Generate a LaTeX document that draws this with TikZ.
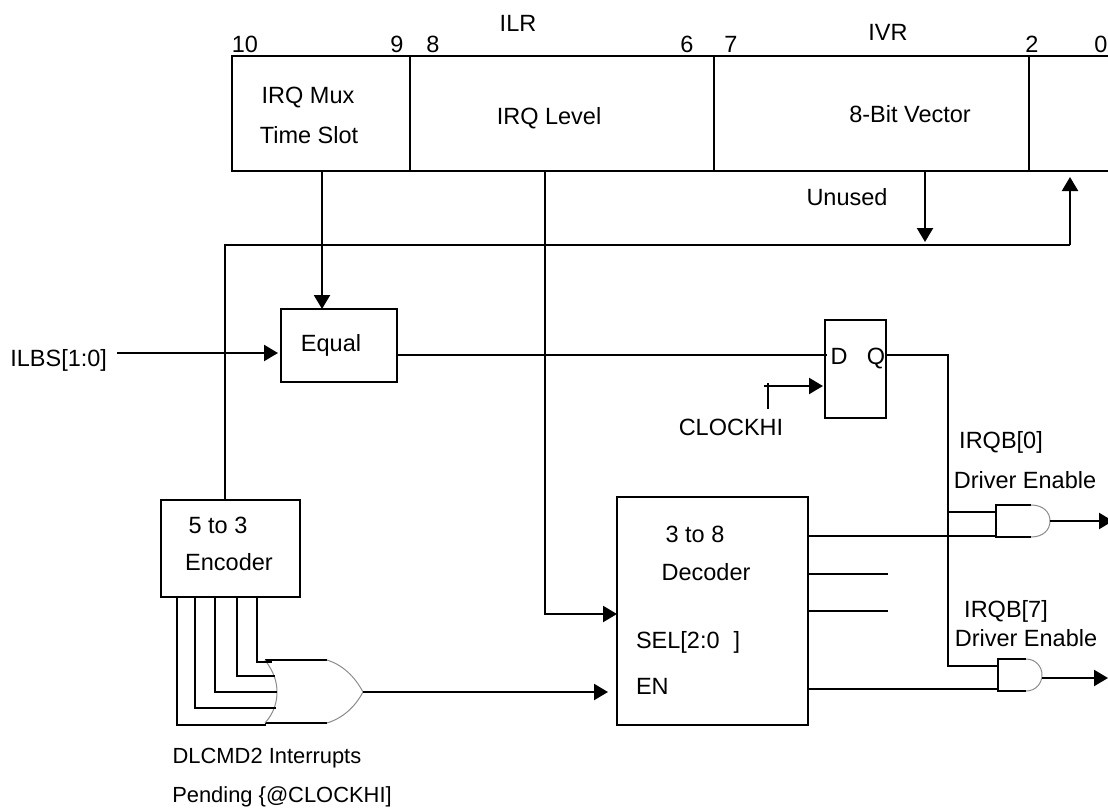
\documentclass[tikz,border=0pt]{standalone}
\usepackage{fontspec}
\setmainfont{Liberation Sans}
\usetikzlibrary{arrows.meta}
\tikzset{
  x=1pt,y=-1pt,
  line/.style={draw=black,line width=2.2pt},
  thin line/.style={draw=black,line width=1.2pt},
  gate curve/.style={draw=black!45,line width=1pt},
  arr/.style={line,-{Triangle[length=14pt,width=16pt]}},
  box/.style={draw=black,line width=2.2pt,inner sep=0pt,outer sep=0pt,anchor=north west},
  hidden/.style={inner sep=0pt,outer sep=0pt,anchor=north west},
  lab/.style={inner sep=0pt,outer sep=0pt,text height=17pt,text depth=0pt,font=\fontsize{23.5}{26}\selectfont},
  small lab/.style={lab,font=\fontsize{21.9}{26}\selectfont},
}
\begin{document}
\begin{tikzpicture}
\useasboundingbox (0,0) rectangle (1108,808);
\clip (0,0) rectangle (1108,808);
\fill[white] (0,0) rectangle (1108,808);
% register
\node[box,minimum width=178pt,minimum height=115pt] (mux) at (232,56) {};
\node[box,minimum width=304pt,minimum height=115pt] (level) at (410,56) {};
\node[box,minimum width=315pt,minimum height=115pt] (vector) at (714,56) {};
\node[hidden,minimum width=79pt,minimum height=115pt] (unused) at (1029,56) {};
\draw[line] (vector.north east) -- (unused.north east);
\draw[line] (vector.south east) -- (unused.south east);
% blocks
\node[box,minimum width=116pt,minimum height=73pt] (equal) at (281,309) {};
\node[box,minimum width=61pt,minimum height=98pt] (ff) at (825,320) {};
\node[box,minimum width=139pt,minimum height=97pt] (enc) at (161,500) {};
\node[box,minimum width=191pt,minimum height=228pt] (dec) at (617,497) {};
% gates
\node[hidden,minimum width=98pt,minimum height=63pt] (orgate) at (265,660) {};
\node[hidden,minimum width=54pt,minimum height=32pt] (and0) at (996,505) {};
\node[hidden,minimum width=44pt,minimum height=32pt] (and7) at (998,659) {};
\draw[thin line] (1031,505) -- (996,505) -- (996,537) -- (1031,537);
\draw[gate curve] (1031,505) .. controls (1043,505) and (1050,512) .. (1050,521) .. controls (1050,530) and (1043,537) .. (1031,537);
\draw[thin line] (1026,659) -- (998,659) -- (998,691) -- (1026,691);
\draw[gate curve] (1026,659) .. controls (1036,659) and (1042,667) .. (1042,675) .. controls (1042,683) and (1036,691) .. (1026,691);
\draw[thin line] (265,660) -- (327,660);
\draw[thin line] (265,723) -- (327,723);
\draw[gate curve] (265,660) .. controls (274,672) and (277,682) .. (277,692) .. controls (277,702) and (274,713) .. (265,723);
\draw[gate curve] (327,660) .. controls (343,665) and (355,677) .. (363,692) .. controls (355,707) and (343,718) .. (327,723);
% labels
\node[lab] (t1) at (518,23) {ILR};
\node[lab] (t2) at (888,32) {IVR};
\node[lab] (b10) at (245,44) {10};
\node[lab] (b9) at (397,44) {9};
\node[lab] (b8) at (433,44) {8};
\node[lab] (b6) at (687,44) {6};
\node[lab] (b7) at (731,44) {7};
\node[lab] (b2) at (1032,44) {2};
\node[lab] (b0) at (1101,44) {0};
\node[lab] (t3) at (308,95) {IRQ Mux};
\node[lab] (t4) at (309,135) {Time Slot};
\node[lab] (t5) at (549,116) {IRQ Level};
\node[lab] (t6) at (910,114) {8-Bit Vector};
\node[lab] (t7) at (847,197) {Unused};
\node[lab,anchor=east] (ilbs) at (107,358) {ILBS[1:0]};
\node[lab] (t8) at (331,343) {Equal};
\node[lab] (d) at (839,356) {D};
\node[lab] (q) at (876,356) {Q};
\node[lab] (clk) at (731,427) {CLOCKHI};
\node[lab] (t9) at (1001,440) {IRQB[0]};
\node[lab] (t10) at (1025,480) {Driver Enable};
\node[lab] (t11) at (1006,609) {IRQB[7]};
\node[lab] (t12) at (1026,638) {Driver Enable};
\node[lab] (t13) at (218,525) {5 to 3};
\node[lab] (t14) at (229,562) {Encoder};
\node[lab] (t15) at (695,534) {3 to 8};
\node[lab] (t16) at (706,572) {Decoder};
\node[lab,anchor=west] (sel) at (636,640) {SEL[2:0\hspace{14pt}]};
\node[lab,anchor=west] (en) at (636,686) {EN};
\node[small lab] (t17) at (267,755) {DLCMD2 Interrupts};
\node[small lab] (t18) at (282,794) {Pending \{@CLOCKHI]};
% connectors
\coordinate (ilbsfoot) at (117,353);
\coordinate (clkfoot) at (768,409);
\coordinate (outa) at (888,574);
\coordinate (outb) at (888,611);
\coordinate (o0) at (1113,521);
\coordinate (o7) at (1108,678);
\draw[arr] (mux.south -| 322,0) -- (equal.north -| 322,0);
\draw[arr] (ilbsfoot) -- ([xshift=-3pt]equal.west |- 0,353);
\draw[arr] (level.south -| 545,0) |- (dec.west |- 0,614);
\draw[line] (enc.north -| 225,0) |- (1070,245);
\draw[arr] (1070,245) -- ([yshift=-6pt]unused.south -| 1070,0);
\draw[arr] (vector.south -| 925,0) -- (925,242);
\draw[line] (equal.east |- 0,355) -- ([xshift=2pt]ff.west |- 0,355);
\draw[line] (ff.east |- 0,355) -- (948,355) -- (948,666) -- (and7.west |- 0,666);
\draw[line] (948,512) -- (and0.west |- 0,512);
\draw[line] (clkfoot) -- (768,383);
\draw[arr] (764,386) -- ([xshift=-2pt]ff.west |- 0,386);
\draw[line] (dec.east |- 0,536) -- (and0.west |- 0,536);
\draw[line] (dec.east |- 0,574) -- (outa);
\draw[line] (dec.east |- 0,611) -- (outb);
\draw[line] (dec.east |- 0,689) -- (and7.west |- 0,689);
\draw[arr] (and0.east |- 0,521) -- (o0);
\draw[arr] (and7.east |- 0,678) -- (o7);
\draw[line] (enc.south -| 257,0) -- (257,662) -- (272,662);
\draw[line] (enc.south -| 237,0) -- (237,676) -- (261,676);
\draw[thin line] (261,676) -- (275,676);
\draw[line] (enc.south -| 215,0) -- (215,692) -- (263,692);
\draw[thin line] (263,692) -- (277,692);
\draw[line] (enc.south -| 195,0) -- (195,708) -- (263,708);
\draw[thin line] (263,708) -- (276,708);
\draw[line] (enc.south -| 177,0) -- (177,725) -- (266,725);
\draw[thin line] (orgate.east |- 0,692) -- (381,692);
\draw[arr] (381,692) -- ([xshift=-9pt]dec.west |- 0,692);
\end{tikzpicture}
\end{document}
